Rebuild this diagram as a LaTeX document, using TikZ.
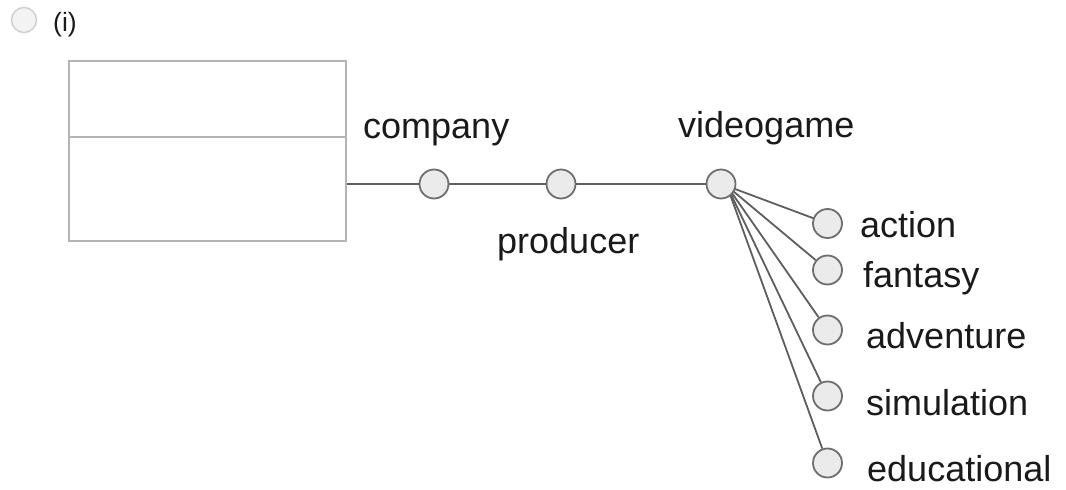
\documentclass[tikz,border=0pt]{standalone}
\usepackage{fontspec}
\setmainfont{Liberation Sans}
\usetikzlibrary{backgrounds}
\definecolor{boxgray}{HTML}{B4B4B4}
\definecolor{linegray}{HTML}{5E5E5E}
\definecolor{circfill}{HTML}{EBEBEB}
\definecolor{circdraw}{HTML}{6E6E6E}
\definecolor{radfill}{HTML}{F3F3F3}
\definecolor{raddraw}{HTML}{D0D0D0}
\definecolor{txt}{HTML}{1A1A1A}
\tikzset{
  attr/.style={circle, draw=circdraw, fill=circfill, line width=1.8pt, minimum size=29pt, inner sep=0pt},
  lbl/.style={anchor=base west, inner sep=0pt, text=txt, font=\fontsize{36}{43}\selectfont},
  conn/.style={draw=linegray, line width=1.8pt},
  classbox/.style={draw=boxgray, line width=2.4pt, minimum width=277pt, minimum height=180pt, inner sep=0pt}
}
\begin{document}
\begin{tikzpicture}[x=1pt, y=-1pt]
\useasboundingbox (0,0) rectangle (1066,490);
% radio button
\node[circle, draw=raddraw, fill=radfill, line width=1.5pt, minimum size=25pt, inner sep=0pt] (radio) at (24,20) {};
\node[anchor=base west, inner sep=0pt, text=txt, font=\fontsize{26.5}{32}\selectfont] (num) at (53,31.5) {(i)};
% class box
\node[classbox] (cls) at (207.5,151) {};
\draw[draw=boxgray, line width=2.4pt] (cls.west |- 0,137) coordinate (dl) -- (cls.east |- 0,137) coordinate (dr);
% main chain
\node[attr] (co) at (434,184) {};
\node[attr] (pr) at (561,184) {};
\node[attr] (vg) at (721,184) {};
\node[lbl] (coL) at (363,138) {company};
\node[lbl] (prL) at (497,253) {producer};
\node[lbl] (vgL) at (678,137) {videogame};
\draw[conn] (cls.east |- co) -- (co);
\draw[conn] (co) -- (pr);
\draw[conn] (pr) -- (vg);
% genres
\node[attr] (ac) at (827.5,223.5) {};
\node[attr] (fa) at (827.5,270) {};
\node[attr] (ad) at (827.5,330) {};
\node[attr] (si) at (827.5,396) {};
\node[attr] (ed) at (827.5,463) {};
\node[lbl] (acL) at (860,237) {action};
\node[lbl] (faL) at (863,287) {fantasy};
\node[lbl] (adL) at (866,348) {adventure};
\node[lbl] (siL) at (866,415) {simulation};
\node[lbl] (edL) at (867,481) {educational};
\coordinate (fan) at ([shift={(6,2)}]vg.center);
\begin{scope}[on background layer]
\foreach \t in {ac,fa,ad,si,ed}{
  \draw[conn] (fan) -- (\t);
}
\end{scope}
\end{tikzpicture}
\end{document}
